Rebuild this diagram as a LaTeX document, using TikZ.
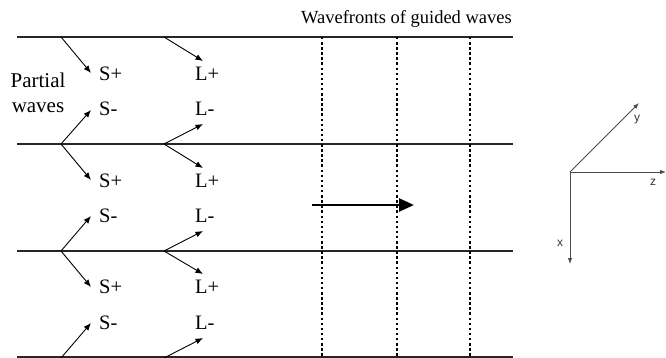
\documentclass[tikz,border=0pt]{standalone}
\usepackage{fontspec}
\setmainfont{Liberation Serif}
\newfontfamily\axfont{Liberation Sans}
\usetikzlibrary{arrows.meta}
\begin{document}
\begin{tikzpicture}[x=1pt,y=-1pt,
  plate/.style={line width=1.6pt, black!85},
  wf/.style={line width=1.3pt, dash pattern=on 2.5pt off 2.6pt},
  pw/.style={line width=0.9pt, -{Latex[length=7.5pt,width=6pt]}},
  lbl/.style={font=\fontsize{20.5}{21}\selectfont, inner sep=0pt, anchor=west},
  ttl/.style={font=\fontsize{18.5}{20}\selectfont, inner sep=0pt},
  axis/.style={line width=0.8pt, black!70, -{Latex[length=6pt,width=4.5pt]}},
  axlbl/.style={font=\axfont\fontsize{12}{13}\selectfont, inner sep=0pt, black!80},
  bigarrow/.style={line width=2.6pt, -{Triangle[length=15pt,width=13pt]}}
]
\useasboundingbox (0,0) rectangle (666,358);

% plates
\foreach \i/\yy in {1/37,2/144,3/251,4/357}{
  \coordinate (pl\i) at (17,\yy);
  \coordinate (pr\i) at (513,\yy);
  \draw[plate] (pl\i) -- (pr\i);
}

% wavefronts
\foreach \i/\xx in {1/322,2/397,3/470}{
  \coordinate (wt\i) at (\xx,37);
  \coordinate (wb\i) at (\xx,358);
  \draw[wf] (wt\i) -- (wb\i);
}

% title
\node[ttl, anchor=base] (title) at (406.5,24) {Wavefronts of guided waves};

% partial waves label
\node[font=\fontsize{21}{25}\selectfont, align=center, inner sep=0pt] (partial) at (38,93) {Partial\\waves};

% labels
\foreach \r/\yp/\ym in {1/74/109,2/181/216,3/287/323}{
  \node[lbl] (Sp\r) at (99,\yp) {S+};
  \node[lbl] (Sm\r) at (99,\ym) {S-};
  \node[lbl] (Lp\r) at (195,\yp) {L+};
  \node[lbl] (Lm\r) at (195,\ym) {L-};
}

% partial wave arrows (downward-going)
\foreach \r/\ya/\ys/\yl in {1/37/73/61,2/144/180/168,3/251/287/274}{
  \coordinate (sd\r) at (61,\ya);
  \coordinate (sde\r) at (91,\ys);
  \coordinate (ld\r) at (164,\ya);
  \coordinate (lde\r) at (203,\yl);
  \draw[pw] (sd\r) -- (sde\r);
  \draw[pw] (ld\r) -- (lde\r);
}
% partial wave arrows (upward-going)
\foreach \r/\ya/\ys/\yl in {1/144/110/124,2/251/216/231,3/358/323/338}{
  \coordinate (su\r) at (61,\ya);
  \coordinate (sue\r) at (91,\ys);
  \coordinate (lu\r) at (164,\ya);
  \coordinate (lue\r) at (203,\yl);
  \draw[pw] (su\r) -- (sue\r);
  \draw[pw] (lu\r) -- (lue\r);
}

% propagation arrow
\coordinate (ga) at (312,205);
\coordinate (gb) at (414,205);
\draw[bigarrow] (ga) -- (gb);

% axes
\coordinate (O) at (570,172);
\coordinate (Z) at (666,172);
\coordinate (Y) at (639,103);
\coordinate (X) at (570,264);
\draw[axis] (O) -- (Z);
\draw[axis] (O) -- (Y);
\draw[axis] (O) -- (X);
\node[axlbl] (ylbl) at (637,120) {y};
\node[axlbl] (zlbl) at (653,182) {z};
\node[axlbl] (xlbl) at (560,243) {x};
\end{tikzpicture}
\end{document}
